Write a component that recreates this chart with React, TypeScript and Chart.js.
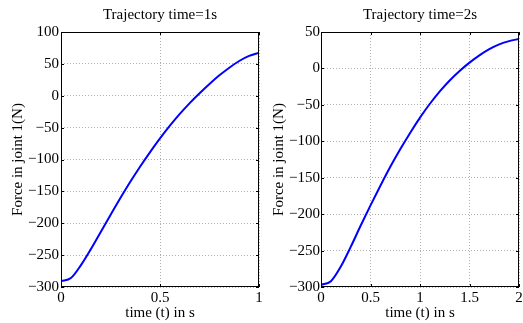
import React, { useEffect, useRef } from 'react';
import { Chart, registerables } from 'chart.js';

Chart.register(...registerables);

// ---- Data ----
const time1 = [0, 0.05, 0.1, 0.15, 0.2, 0.25, 0.3, 0.35, 0.4, 0.45, 0.5, 0.55, 0.6, 0.65, 0.7, 0.75, 0.8, 0.85, 0.9, 0.95, 1.0];
const force1 = [-291, -286, -266, -241, -214, -187, -160.5, -135, -111, -88.5, -67, -47, -28.5, -11.5, 4, 18.5, 32, 44, 54.5, 62.5, 67.5];

const time2 = [0, 0.1, 0.2, 0.3, 0.4, 0.5, 0.6, 0.7, 0.8, 0.9, 1.0, 1.1, 1.2, 1.3, 1.4, 1.5, 1.6, 1.7, 1.8, 1.9, 2.0];
const force2 = [-297, -292, -272, -245, -216, -188, -161, -135, -111, -88.5, -67.5, -48.5, -31.5, -16.5, -3.5, 8, 18, 26.5, 33, 37.5, 40.5];

const xTicks1 = [0, 0.5, 1];
const xTickLabels1 = ['0', '0.5', '1'];
const yTicks1 = [-300, -250, -200, -150, -100, -50, 0, 50, 100];
const yTickLabels1 = ['\u2212300', '\u2212250', '\u2212200', '\u2212150', '\u2212100', '\u221250', '0', '50', '100'];

const xTicks2 = [0, 0.5, 1, 1.5, 2];
const xTickLabels2 = ['0', '0.5', '1', '1.5', '2'];
const yTicks2 = [-300, -250, -200, -150, -100, -50, 0, 50];
const yTickLabels2 = ['\u2212300', '\u2212250', '\u2212200', '\u2212150', '\u2212100', '\u221250', '0', '50'];

const title1 = 'Trajectory time=1s';
const title2 = 'Trajectory time=2s';
const xLabel = 'time (t) in s';
const yLabel = 'Force in joint 1(N)';

const FONT = "'Liberation Serif', 'Times New Roman', serif";
const FS = 15;

const boxPlugin = {
  id: 'matlabBox',
  afterDraw(chart: any) {
    const { ctx, chartArea } = chart;
    const { left, right, top, bottom } = chartArea;
    const xs = chart.scales.x;
    const ys = chart.scales.y;
    ctx.save();
    ctx.strokeStyle = '#000';
    ctx.lineWidth = 1;
    ctx.strokeRect(Math.round(left) + 0.5, Math.round(top) + 0.5, Math.round(right - left) - 1, Math.round(bottom - top) - 1);
    const len = 3;
    ctx.beginPath();
    xs.ticks.forEach((t: any) => {
      const p = Math.round(xs.getPixelForValue(t.value)) + 0.5;
      ctx.moveTo(p, bottom);
      ctx.lineTo(p, bottom - len);
      ctx.moveTo(p, top);
      ctx.lineTo(p, top + len);
    });
    ys.ticks.forEach((t: any) => {
      const p = Math.round(ys.getPixelForValue(t.value)) + 0.5;
      ctx.moveTo(left, p);
      ctx.lineTo(left + len, p);
      ctx.moveTo(right, p);
      ctx.lineTo(right - len, p);
    });
    ctx.stroke();
    ctx.restore();
  },
};

function makeConfig(p: {
  xs: number[]; ys: number[]; xTicks: number[]; xLabels: string[]; yTicks: number[]; yLabels: string[];
  title: string; yWidth: number; yTitlePad: number; padRight: number; tickPadY: number;
}): any {
  return {
    type: 'line',
    data: {
      datasets: [
        {
          data: p.xs.map((x, i) => ({ x, y: p.ys[i] })),
          borderColor: '#0000ff',
          borderWidth: 2,
          pointRadius: 0,
          fill: false,
          cubicInterpolationMode: 'monotone',
        },
      ],
    },
    options: {
      animation: false,
      responsive: false,
      devicePixelRatio: 1,
      layout: { padding: { left: 0, right: p.padRight, top: 0, bottom: 0 } },
      plugins: {
        legend: { display: false },
        tooltip: { enabled: false },
        title: {
          display: true,
          text: p.title,
          fullSize: false,
          color: '#000',
          font: { family: FONT, size: FS, weight: 'normal' },
          padding: { top: 6.5, bottom: 7.5 },
        },
      },
      scales: {
        x: {
          type: 'linear',
          min: p.xTicks[0],
          max: p.xTicks[p.xTicks.length - 1],
          afterBuildTicks: (s: any) => { s.ticks = p.xTicks.map((v) => ({ value: v })); },
          afterFit: (s: any) => { s.height = 36; s.paddingLeft = 0; s.paddingRight = 0; },
          ticks: {
            autoSkip: false,
            maxRotation: 0,
            padding: 2.5,
            color: '#000',
            font: { family: FONT, size: FS },
            callback: (_v: any, i: number) => p.xLabels[i],
          },
          grid: { color: '#b0b0b0', lineWidth: 1, drawTicks: false },
          border: { display: false, dash: [1, 2] },
          title: {
            display: true,
            text: xLabel,
            color: '#000',
            font: { family: FONT, size: FS },
            padding: { top: 0, bottom: 1 },
          },
        },
        y: {
          type: 'linear',
          min: p.yTicks[0],
          max: p.yTicks[p.yTicks.length - 1],
          afterBuildTicks: (s: any) => { s.ticks = p.yTicks.map((v) => ({ value: v })); },
          afterFit: (s: any) => { s.width = p.yWidth; s.paddingTop = 0; s.paddingBottom = 0; },
          ticks: {
            autoSkip: false,
            padding: p.tickPadY,
            color: '#000',
            font: { family: FONT, size: FS },
            callback: (_v: any, i: number) => p.yLabels[i],
          },
          grid: { color: '#b0b0b0', lineWidth: 1, drawTicks: false },
          border: { display: false, dash: [1, 2] },
          title: {
            display: true,
            text: yLabel,
            color: '#000',
            font: { family: FONT, size: FS },
            padding: { top: p.yTitlePad, bottom: 0 },
          },
        },
      },
    },
    plugins: [boxPlugin],
  };
}

function Plot(props: { cfg: any; left: number; width: number }) {
  const ref = useRef<HTMLCanvasElement | null>(null);
  useEffect(() => {
    if (!ref.current) return;
    const chart = new Chart(ref.current, props.cfg);
    return () => chart.destroy();
  }, []);
  return (
    <canvas
      ref={ref}
      width={props.width}
      height={323}
      style={{ position: 'absolute', left: props.left, top: 0, width: props.width, height: 323 }}
    />
  );
}

export default function App() {
  const cfg1 = makeConfig({
    xs: time1, ys: force1, xTicks: xTicks1, xLabels: xTickLabels1, yTicks: yTicks1, yLabels: yTickLabels1,
    title: title1, yWidth: 61, yTitlePad: 9, padRight: 3, tickPadY: 2,
  });
  const cfg2 = makeConfig({
    xs: time2, ys: force2, xTicks: xTicks2, xLabels: xTickLabels2, yTicks: yTicks2, yLabels: yTickLabels2,
    title: title2, yWidth: 59, yTitlePad: 7.7, padRight: 4, tickPadY: 1,
  });
  return (
    <div style={{ position: 'fixed', left: 0, top: 0, width: 523, height: 323, background: '#fff' }}>
      <Plot cfg={cfg1} left={0} width={262} />
      <Plot cfg={cfg2} left={262} width={261} />
    </div>
  );
}
